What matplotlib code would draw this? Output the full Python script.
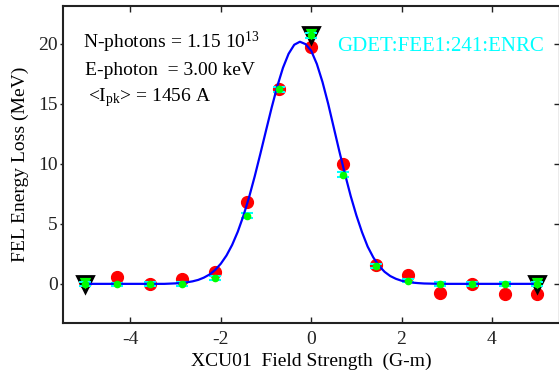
import numpy as np
import matplotlib
matplotlib.use('Agg')
import matplotlib.pyplot as plt

plt.rcParams['font.family'] = ['Liberation Serif', 'DejaVu Serif']
plt.rcParams['mathtext.fontset'] = 'custom'
plt.rcParams['mathtext.rm'] = 'Liberation Serif'
plt.rcParams['mathtext.it'] = 'Liberation Serif'
plt.rcParams['axes.unicode_minus'] = False

# field strength scan points (G-m)
field = [-5.0, -4.29, -3.57, -2.86, -2.14, -1.43, -0.71, 0.0,
         0.71, 1.43, 2.14, 2.86, 3.57, 4.29, 5.0]

# measured energy loss (red) and gas detector values (green, cyan error bars)
loss_meas = [0.15, 0.6, 0.0, 0.42, 0.97, 6.8, 16.2, 19.75,
             10.0, 1.6, 0.7, -0.78, -0.05, -0.88, -0.88]
gdet = [0.0, -0.05, 0.0, 0.0, 0.47, 5.66, 16.2, 20.7,
        9.1, 1.5, 0.27, 0.0, 0.0, 0.0, 0.0]
gdet_err = [0.15, 0.15, 0.15, 0.15, 0.15, 0.2, 0.2, 0.2,
            0.2, 0.15, 0.15, 0.15, 0.15, 0.15, 0.15]

# fit curve
fit_x = [-5.0, -4.0, -3.25, -3.0, -2.875, -2.75, -2.625, -2.5, -2.375,
         -2.25, -2.125, -2.0, -1.875, -1.75, -1.625, -1.5, -1.375,
         -1.25, -1.125, -1.0, -0.875, -0.75, -0.625, -0.5, -0.375,
         -0.25, -0.125, 0.0, 0.125, 0.25, 0.375, 0.5, 0.625, 0.75,
         0.875, 1.0, 1.125, 1.25, 1.375, 1.5, 1.625, 1.75, 1.875,
         2.0, 2.125, 2.25, 2.375, 2.5, 2.75, 3.0, 4.0, 5.0]
fit_y = [0.0, 0.0, 0.0, 0.04, 0.07, 0.13, 0.21, 0.33, 0.52,
         0.78, 1.16, 1.68, 2.36, 3.24, 4.34, 5.67, 7.21,
         8.95, 10.83, 12.76, 14.67, 16.45, 17.98, 19.15, 19.9,
         20.15, 19.95, 19.4, 18.3, 16.8, 15.0, 13.0, 11.0, 9.1,
         7.3, 5.7, 4.3, 3.1, 2.2, 1.5, 1.0, 0.65, 0.42,
         0.26, 0.16, 0.1, 0.06, 0.03, 0.01, 0.0, 0.0, 0.0]

# start / peak / end markers
mark_x = [-5.0, 0.0, 5.0]
mark_y = [0.0, 20.7, 0.0]

fig = plt.figure(figsize=(5.59, 3.79), dpi=100)
ax = fig.add_axes([0.1122, 0.148, 0.889, 0.837])

ax.plot(field, loss_meas, 'o', color='red', markersize=8.5, zorder=2)
ax.plot(mark_x, mark_y, 'v', markerfacecolor='lime', markeredgecolor='black',
        markeredgewidth=2, markersize=11, zorder=3)
ax.errorbar(field, gdet, yerr=gdet_err, fmt='none', ecolor='cyan',
            elinewidth=1.5, capsize=4, capthick=1.5, zorder=4)
ax.plot(fit_x, fit_y, '-', color='blue', linewidth=1.6, zorder=5)
ax.plot(field, gdet, 'o', color='lime', markersize=4.5, zorder=6)

ax.set_xlim(-5.5, 5.5)
ax.set_ylim(-3.25, 23.15)
ax.set_xticks([-4, -2, 0, 2, 4])
ax.set_yticks([0, 5, 10, 15, 20])
ax.tick_params(axis='x', direction='in', length=4, width=1, labelsize=14,
               top=True, pad=6, colors='#222222')
ax.tick_params(axis='y', direction='out', length=2.5, width=1, labelsize=14,
               right=False, pad=1, colors='#222222')
sec = ax.secondary_yaxis('right')
sec.set_yticks([0, 5, 10, 15, 20])
sec.tick_params(direction='in', length=4, width=1, labelright=False,
                colors='#222222')
for sp in list(ax.spines.values()) + list(sec.spines.values()):
    sp.set_linewidth(1.5)
    sp.set_color('#222222')

ax.set_xlabel('XCU01  Field Strength  (G-m)', fontsize=14, labelpad=3)
ax.set_ylabel('FEL Energy Loss (MeV)', fontsize=14, labelpad=7)

ax.text(0.04, 0.885, 'N-photons = 1.15 10$^{13}$', transform=ax.transAxes,
        fontsize=14, va='center')
ax.text(0.045, 0.795, 'E-photon  = 3.00 keV', transform=ax.transAxes,
        fontsize=14, va='center')
ax.text(0.05, 0.71, '<I$_{\\mathrm{pk}}$> = 1456 A', transform=ax.transAxes,
        fontsize=14, va='center')
ax.text(0.552, 0.87, 'GDET:FEE1:241:ENRC', transform=ax.transAxes,
        fontsize=15, va='center', color='cyan')

fig.savefig('out.png', dpi=100)
